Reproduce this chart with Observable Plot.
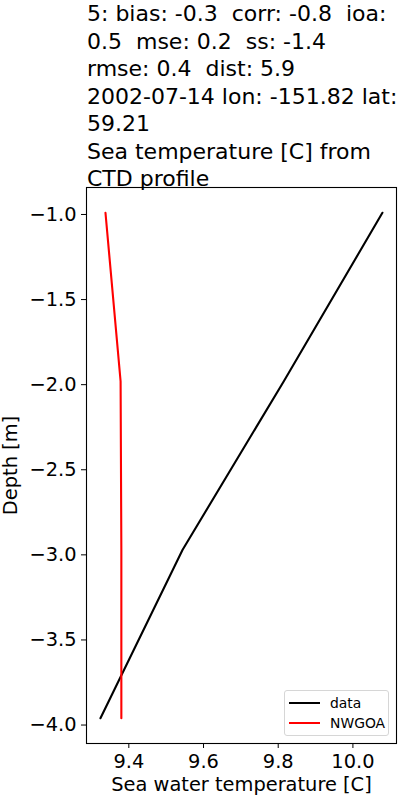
<!DOCTYPE html>
<html>
<head>
<meta charset="utf-8">
<script src="https://cdn.jsdelivr.net/npm/d3@7"></script>
<script src="https://cdn.jsdelivr.net/npm/@observablehq/plot@0.6"></script>
<style>
  html, body { margin: 0; padding: 0; background: #fff; }
  body { width: 400px; height: 800px; position: relative; font-family: "DejaVu Sans", sans-serif; overflow: hidden; }
  #title { height: 180px; box-sizing: border-box; padding-left: 87px; font-size: 22px; line-height: 27.5px; color: #000; white-space: pre; }
  #chart svg { display: block; font-family: "DejaVu Sans", sans-serif; font-size: 19.4px; }
  #legend { position: absolute; left: 284px; top: 690px; width: 105px; height: 46px; box-sizing: border-box;
            border: 1px solid #d6d6d6; border-radius: 3px; background: rgba(255,255,255,0.8); font-size: 13.9px; }
  .item { position: absolute; left: 4px; height: 16px; display: flex; align-items: center; }
  .sw { width: 31px; height: 0; border-top: 2.1px solid; margin-right: 10px; }
</style>
</head>
<body>
<div id="title"></div>
<div id="chart"></div>
<div id="legend"></div>
<script>
const titleLines = [
  "5: bias: -0.3  corr: -0.8  ioa:",
  "0.5  mse: 0.2  ss: -1.4",
  "rmse: 0.4  dist: 5.9",
  "2002-07-14 lon: -151.82 lat:",
  "59.21",
  "Sea temperature [C] from",
  "CTD profile"
];
const depth = [-0.99, -1.98, -2.97, -3.96];
const dataTemp = [10.079, 9.815, 9.544, 9.324];
const nwgoaTemp = [9.3375, 9.378, 9.380, 9.380];
const seriesNames = ["data", "NWGOA"];
const seriesColors = ["#000000", "#ff0000"];
const xTicks = [9.4, 9.6, 9.8, 10.0];
const yTicks = [-1.0, -1.5, -2.0, -2.5, -3.0, -3.5, -4.0];
const xLabel = "Sea water temperature [C]";
const yLabel = "Depth [m]";

document.getElementById("title").textContent = titleLines.join("\n");

const rows = [];
depth.forEach((d, i) => rows.push({series: seriesNames[0], depth: d, temp: dataTemp[i]}));
depth.forEach((d, i) => rows.push({series: seriesNames[1], depth: d, temp: nwgoaTemp[i]}));

const FS = 19.4;
const chart = Plot.plot({
  width: 400,
  height: 620,
  marginTop: 7,
  marginBottom: 57,
  marginLeft: 86,
  marginRight: 4,
  x: {domain: [9.2867, 10.1167], ticks: xTicks, tickFormat: d3.format(".1f"), tickSize: 5, tickPadding: 6, label: null},
  y: {domain: [-4.1085, -0.8415], ticks: yTicks, tickFormat: d3.format(".1f"), tickSize: 5, tickPadding: 5, label: null},
  color: {domain: seriesNames, range: seriesColors},
  marks: [
    Plot.line(rows, {x: "temp", y: "depth", z: "series", stroke: "series", strokeWidth: 2.1}),
    Plot.frame({stroke: "black", strokeWidth: 1.1}),
    Plot.text([xLabel], {frameAnchor: "bottom", lineAnchor: "middle", textAnchor: "middle", dy: 41, fontSize: FS, fill: "black"}),
    Plot.text([yLabel], {frameAnchor: "left", lineAnchor: "middle", textAnchor: "middle", dx: -75.7, rotate: -90, fontSize: FS, fill: "black"})
  ]
});
document.getElementById("chart").appendChild(chart);

const legend = document.getElementById("legend");
seriesNames.forEach((name, i) => {
  const item = document.createElement("div");
  item.className = "item";
  item.style.top = (4 + i * 20) + "px";
  const sw = document.createElement("div");
  sw.className = "sw";
  sw.style.borderTopColor = seriesColors[i];
  const label = document.createElement("span");
  label.textContent = name;
  item.appendChild(sw);
  item.appendChild(label);
  legend.appendChild(item);
});
</script>
</body>
</html>
